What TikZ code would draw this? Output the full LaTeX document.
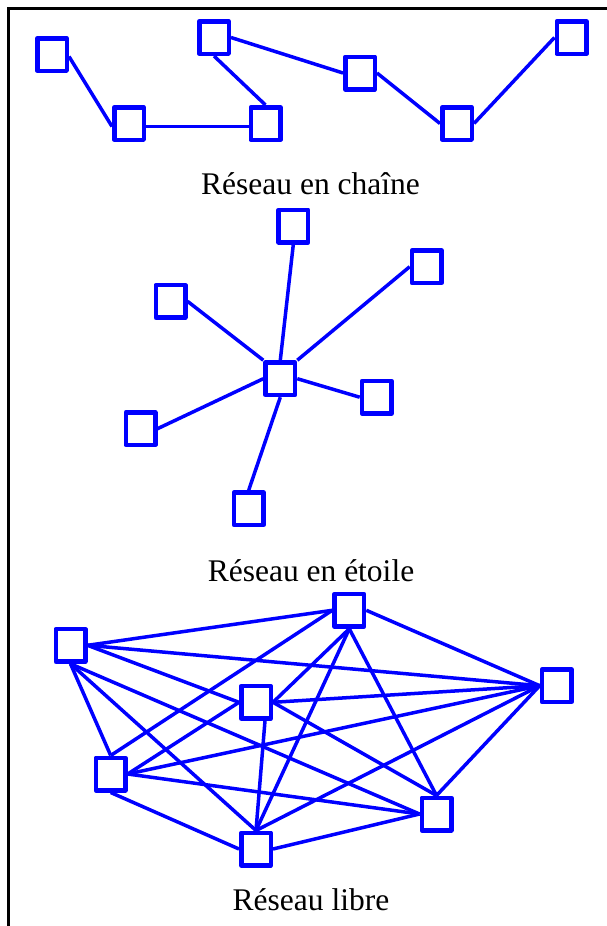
\documentclass[tikz,border=0pt]{standalone}
\usepackage{fontspec}
\setmainfont{Liberation Serif}
\usetikzlibrary{calc,backgrounds}
\definecolor{netblue}{RGB}{0,0,255}
\begin{document}
\begin{tikzpicture}[x=1pt,y=-1pt,
  hostbox/.style={draw=netblue, line width=4.5pt, line join=round, fill=white,
    minimum width=29.5pt, minimum height=32.5pt, inner sep=0pt},
  link/.style={draw=netblue, line width=3.5pt},
  caption/.style={font=\fontsize{31.5}{36}\selectfont, anchor=base, inner sep=0pt}]
\useasboundingbox (0,0) rectangle (607,926);
% frame
\draw[line width=2.2pt] (607,8.5) -- (8.5,8.5) -- (8.5,926);

% --- chain network ---
\node[hostbox] (s1) at (52,54.5) {};
\node[hostbox] (s2) at (129,123.5) {};
\node[hostbox] (s3) at (265.5,123.5) {};
\node[hostbox] (s4) at (214,37.5) {};
\node[hostbox] (s5) at (360,73) {};
\node[hostbox] (s6) at (457,123.5) {};
\node[hostbox] (s7) at (571.5,37.5) {};
\node[caption] (capchain) at (310.5,194) {Réseau en chaîne};

% --- star network ---
\node[hostbox] (c) at (280.3,378.7) {};
\node[hostbox] (t) at (293.3,226) {};
\node[hostbox] (tr) at (426.7,266.7) {};
\node[hostbox] (tl) at (170.5,301.3) {};
\node[hostbox] (r) at (376.7,397.2) {};
\node[hostbox] (l) at (140.5,428.7) {};
\node[hostbox] (b) at (248.7,508.7) {};
\node[caption] (capstar) at (311,581) {Réseau en étoile};

% --- mesh network ---
\node[hostbox] (l1) at (70.5,645.3) {};
\node[hostbox] (l2) at (349.3,610.3) {};
\node[hostbox] (l3) at (556.7,685.7) {};
\node[hostbox] (l4) at (256,702.3) {};
\node[hostbox] (l5) at (110.7,774) {};
\node[hostbox] (l6) at (436.5,814) {};
\node[hostbox] (l7) at (256,849) {};
\node[caption] (capmesh) at (311,910) {Réseau libre};

\begin{scope}[on background layer]
  % chain
  \draw[link] ($(s1.east)+(0,2)$) -- ($(s2.west)+(0,3)$);
  \draw[link] ($(s2.east)+(0,3)$) -- ($(s3.west)+(0,3)$);
  \draw[link] (s3.north) -- (s4.south);
  \draw[link] (s4.east) -- (s5.west);
  \draw[link] (s5.east) -- (s6.west);
  \draw[link] (s6.east) -- (s7.west);
  % star
  \draw[link] (c.north) -- (t.south);
  \draw[link] (c.north east) -- (tr.west);
  \draw[link] (c.north west) -- (tl.east);
  \draw[link] (c.east) -- (r.west);
  \draw[link] (c.west) -- (l.east);
  \draw[link] (c.south) -- (b.north);
  % mesh
  \draw[link] (l1.east) -- (l2.west);
  \draw[link] (l1.east) -- (l3.west);
  \draw[link] (l1.east) -- (l4.west);
  \draw[link] (l1.south) -- (l5.north);
  \draw[link] (l1.south) -- (l7.north);
  \draw[link] (l1.south) -- (l6.west);
  \draw[link] (l2.east) -- (l3.west);
  \draw[link] (l2.west) -- (l5.north);
  \draw[link] (l2.south) -- (l4.east);
  \draw[link] (l2.south) -- (l7.north);
  \draw[link] (l2.south) -- (l6.north);
  \draw[link] (l3.west) -- (l4.east);
  \draw[link] (l3.west) -- (l5.east);
  \draw[link] (l3.west) -- (l7.north);
  \draw[link] (l3.west) -- (l6.north);
  \draw[link] (l4.west) -- (l5.east);
  \draw[link] (l4.east) -- (l6.north);
  \draw[link] ($(l4.south)+(9,0)$) -- (l7.north);
  \draw[link] (l5.east) -- (l6.west);
  \draw[link] (l5.south) -- (l7.west);
  \draw[link] (l7.east) -- (l6.west);
\end{scope}
\end{tikzpicture}
\end{document}
